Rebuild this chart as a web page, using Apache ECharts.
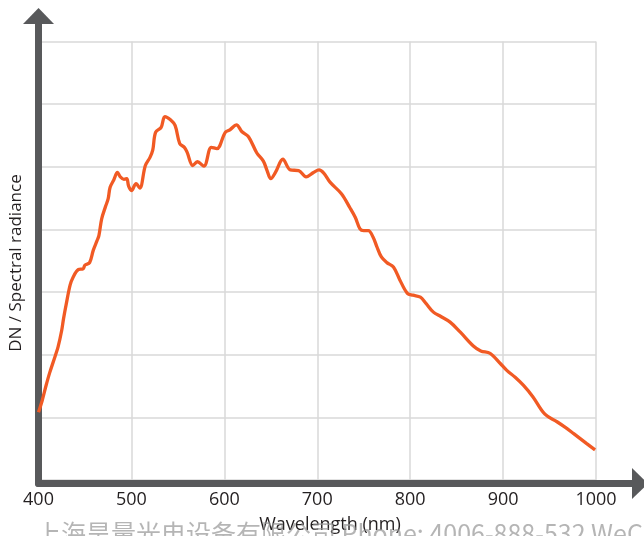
<!DOCTYPE html>
<html>
<head>
<meta charset="utf-8">
<script src="https://cdn.jsdelivr.net/npm/echarts@6/dist/echarts.min.js"></script>
<style>
html,body{margin:0;padding:0;background:#fff;}
#chart{width:644px;height:536px;}
</style>
</head>
<body>
<div id="chart"></div>
<script>
// Wavelength (nm)
var wavelength = [400,404,408,412,418,421,425,427,430,434,437,443,448,450,455,459,463,465,468,472,475,477,481,485,488,492,495,497,500,505,509,515,520,523,526,532,536,542,547,552,557,560,566,571,578,586,592,601,606,613,619,626,635,642,646,650,655,663,671,680,688,696,702,707,714,726,735,741,746,750,755,760,764,769,775,782,789,797,803,811,817,825,833,843,854,868,876,886,897,904,913,922,932,945,958,967,976,990,999];
// DN / Spectral radiance (arbitrary units, 100 per grid line)
var radiance = [108,127,150,171,198,212,239,258,282,311,323,336,337,343,347,367,382,390,417,436,449,467,479,491,484,480,481,469,462,473,466,502,515,527,555,563,580,575,566,537,531,523,502,508,501,531,529,555,559,567,556,548,522,509,494,481,491,512,495,494,484,491,495,490,475,457,435,419,401,398,398,388,373,356,347,340,319,298,295,292,282,268,261,252,236,214,206,202,186,175,164,151,133,105,93,84,74,58,48];
var xTicks = [400,500,600,700,800,900,1000];

var series = wavelength.map(function(w,i){return [w, radiance[i]];});

var chart = echarts.init(document.getElementById('chart'), null, {renderer:'canvas'});
var axisColor = '#58595b';
chart.setOption({
  backgroundColor:'#ffffff',
  animation:false,
  grid:[
    {left:38.5, right:48, top:41.5, bottom:56},
    {left:38.5, right:4, top:16, bottom:52.5}
  ],
  xAxis:[
    {gridIndex:0, type:'value', min:xTicks[0], max:xTicks[xTicks.length-1], interval:100,
     axisLine:{show:false}, axisTick:{show:false},
     axisLabel:{show:true, margin:11, color:'#231f20', fontSize:18, fontFamily:'Open Sans',
       formatter:function(v){return xTicks.indexOf(v)>=0 ? String(v) : '';}},
     splitLine:{show:true, lineStyle:{color:'#d9d9d9', width:1.5}}},
    {gridIndex:1, type:'value', min:0, max:1,
     axisLine:{show:true, symbol:['none','triangle'], symbolSize:[31,16], lineStyle:{color:axisColor, width:7}},
     axisTick:{show:false}, axisLabel:{show:false}, splitLine:{show:false}}
  ],
  yAxis:[
    {gridIndex:0, type:'value', min:0, max:700, interval:100,
     axisLine:{show:false}, axisTick:{show:false}, axisLabel:{show:false},
     splitLine:{show:true, lineStyle:{color:'#d9d9d9', width:1.5}}},
    {gridIndex:1, type:'value', min:0, max:1,
     axisLine:{show:true, symbol:['none','triangle'], symbolSize:[31,16], lineStyle:{color:axisColor, width:7}},
     axisTick:{show:false}, axisLabel:{show:false}, splitLine:{show:false}}
  ],
  series:[{
    type:'line', xAxisIndex:0, yAxisIndex:0, data:series,
    smooth:0.35, showSymbol:false, symbol:'none',
    lineStyle:{color:'#f15a24', width:3.3}, z:5
  }],
  graphic:[
    {type:'text', x:16, y:263, rotation:Math.PI/2, z:10,
     style:{text:'DN / Spectral radiance', align:'center', verticalAlign:'middle',
       fill:'#231f20', font:'17px "Open Sans"'}},
    {type:'text', x:330, y:525, z:10,
     style:{text:'Wavelength (nm)', align:'center', verticalAlign:'middle',
       fill:'#231f20', font:'18px "Open Sans"'}},
    {type:'text', x:36, y:521, z:11,
     style:{text:'上海昊量光电设备有限公司 Phone: 4006-888-532 WeChat', align:'left', verticalAlign:'top',
       fill:'rgba(150,150,150,0.7)', font:'25px "Noto Sans CJK SC"'}}
  ]
});
</script>
</body>
</html>
